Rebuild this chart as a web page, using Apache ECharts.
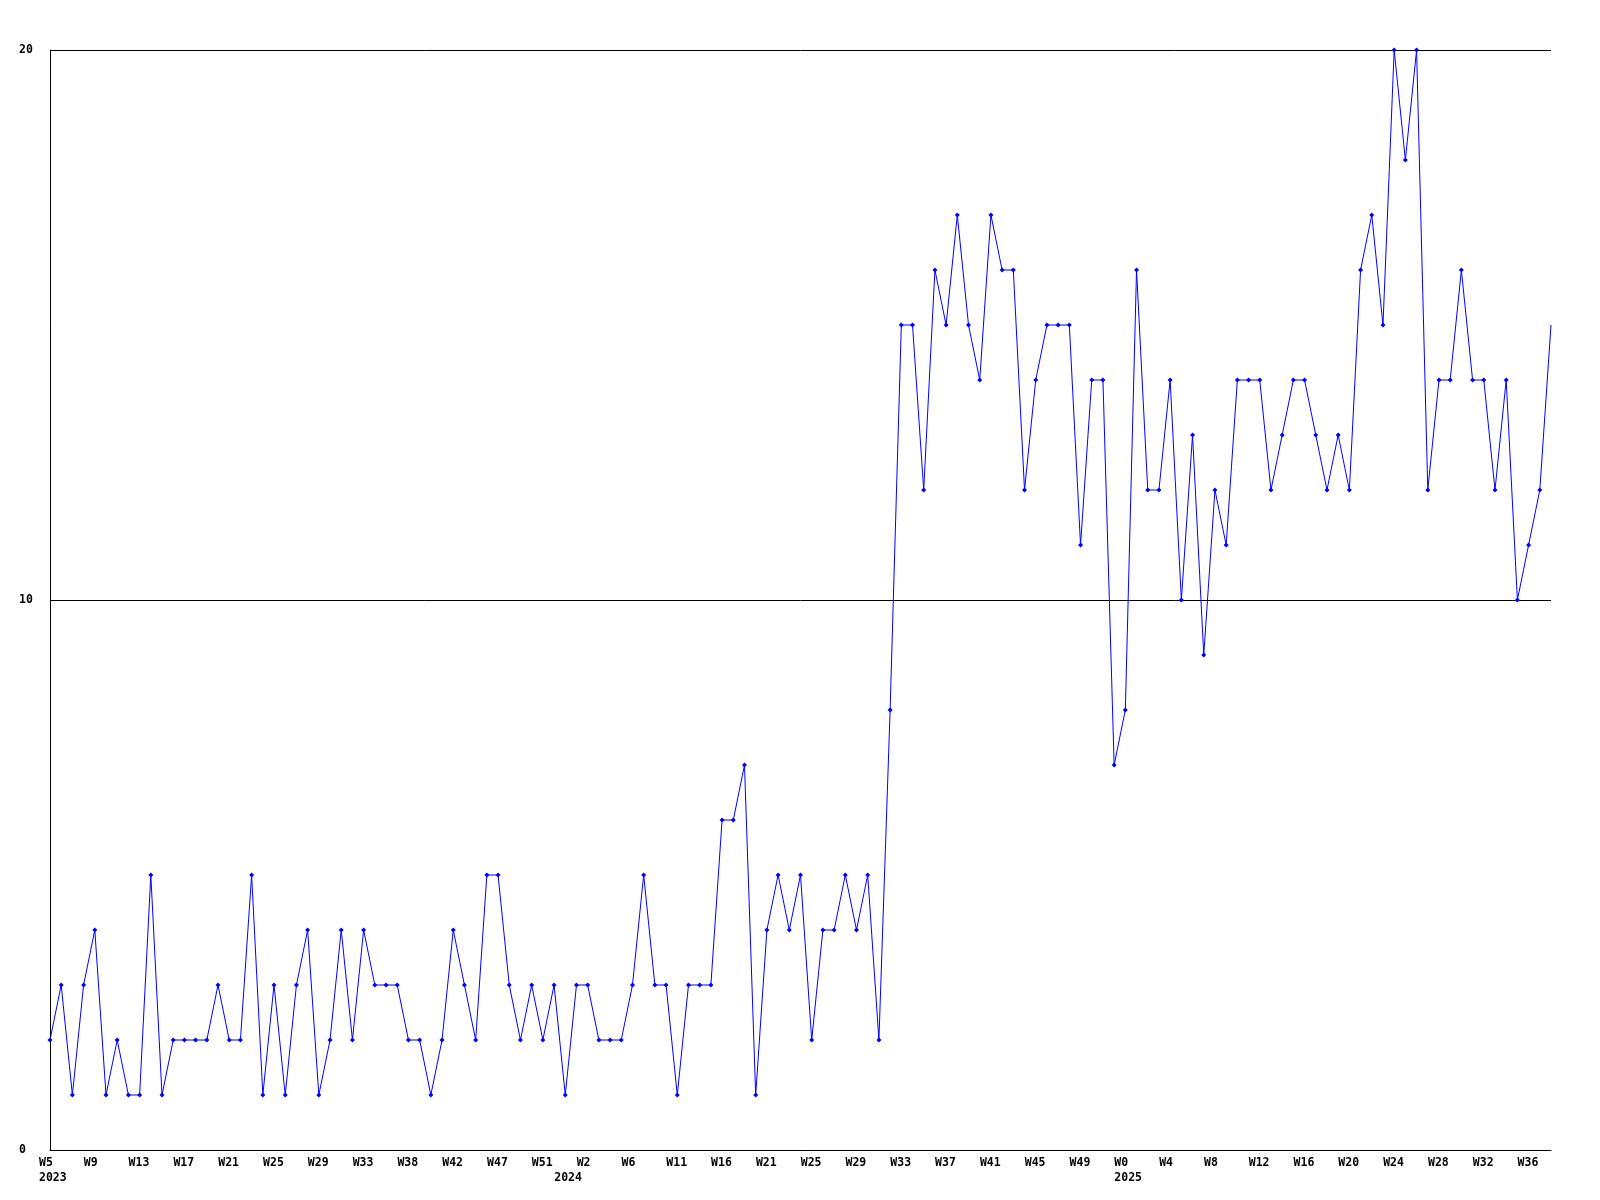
<!DOCTYPE html>
<html>
<head>
<meta charset="utf-8">
<script src="https://cdn.jsdelivr.net/npm/echarts@6/dist/echarts.min.js"></script>
<style>
  html, body { margin: 0; padding: 0; background: #ffffff; }
  #chart { width: 1600px; height: 1200px; }
</style>
</head>
<body>
<div id="chart"></div>
<script>
// Weekly values, one per point (2023 W5 onward)
var values = [
  2,3,1,3,4,1,2,1,1,5,1,2,2,2,2,3,2,2,5,1,3,1,3,4,1,2,4,2,4,3,3,3,2,2,1,2,
  4,3,2,5,5,3,2,3,2,3,1,3,3,2,2,2,3,5,3,3,1,3,3,3,6,6,7,1,4,5,4,5,2,4,4,5,4,5,2,8,
  15,15,12,16,15,17,15,14,17,16,16,12,14,15,15,15,11,14,14,7,
  8,16,12,12,14,10,13,9,12,11,14,14,14,12,13,14,14,13,12,13,
  12,16,17,15,20,18,20,12,14,14,16,14,14,12,14,10,11,12,15
];
// Week tick labels shown every 4th point
var tickLabels = [
  'W5','W9','W13','W17','W21','W25','W29','W33','W38','W42','W47','W51',
  'W2','W6','W11','W16','W21','W25','W29','W33','W37','W41','W45','W49',
  'W0','W4','W8','W12','W16','W20','W24','W28','W32','W36'
];
// Year labels, placed at the first point of each year (point index)
var yearPointIndex = [0, 46, 96];
var yearLabels = ['2023', '2024', '2025'];
var yTicks = [0, 10, 20];

var categories = values.map(function (v, i) { return String(i); });
var seriesData = values.map(function (v, i) {
  return i === values.length - 1 ? { value: v, symbol: 'none' } : v;
});

var chart = echarts.init(document.getElementById('chart'), null, { renderer: 'canvas' });
var font = 'DejaVu Sans Mono';
chart.setOption({
  animation: false,
  backgroundColor: '#ffffff',
  grid: { left: 50, right: 49, top: 50, bottom: 50, containLabel: false },
  xAxis: {
    type: 'category',
    data: categories,
    boundaryGap: false,
    axisLine: { show: true, lineStyle: { color: '#000000', width: 1 } },
    axisTick: { show: false },
    splitLine: { show: false },
    axisLabel: {
      interval: function (i) {
        return i % 4 === 0 || yearPointIndex.indexOf(i) >= 0;
      },
      hideOverlap: false,
      align: 'left',
      verticalAlign: 'top',
      padding: [0, 0, 0, -11],
      margin: 6,
      color: '#000000',
      fontFamily: font,
      fontWeight: 'bold',
      fontSize: 11.5,
      lineHeight: 15,
      formatter: function (val) {
        var i = Number(val);
        var s = (i % 4 === 0) ? (tickLabels[i / 4] || '') : ' ';
        var y = yearPointIndex.indexOf(i);
        if (y >= 0) s += '\n' + yearLabels[y];
        return s;
      }
    }
  },
  yAxis: {
    type: 'value',
    min: yTicks[0],
    max: yTicks[yTicks.length - 1],
    interval: 10,
    axisLine: { show: true, lineStyle: { color: '#000000', width: 1 } },
    axisTick: { show: false },
    splitLine: { show: true, lineStyle: { color: '#000000', width: 1, type: 'solid' } },
    axisLabel: {
      align: 'left',
      margin: 31,
      color: '#000000',
      fontFamily: font,
      fontWeight: 'bold',
      fontSize: 11.5
    }
  },
  series: [{
    type: 'line',
    data: seriesData,
    showAllSymbol: true,
    symbol: 'diamond',
    symbolSize: 5,
    itemStyle: { color: '#0000ff' },
    lineStyle: { color: '#0000ff', width: 1 },
    emphasis: { disabled: true }
  }]
});
</script>
</body>
</html>
